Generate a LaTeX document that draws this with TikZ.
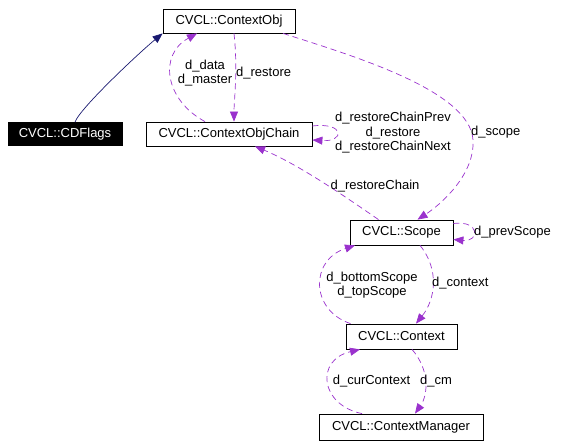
\documentclass[tikz,border=0pt]{standalone}
\usepackage{fontspec}
\setmainfont{Liberation Sans}
\usetikzlibrary{arrows.meta}
\definecolor{inhblue}{RGB}{25,25,112}
\definecolor{usepurple}{RGB}{154,50,205}
\tikzset{
  cls/.style={draw=black,line width=0.8pt,inner sep=0pt,minimum height=24pt,
    font=\fontsize{13}{14.5}\selectfont},
  clsdark/.style={cls,fill=black,text=white},
  inh/.style={-{Triangle[length=10pt,width=8pt]},draw=inhblue,line width=0.7pt},
  use/.style={-{Triangle[length=10pt,width=8pt]},draw=usepurple,line width=0.7pt,
    dash pattern=on 6pt off 4pt},
  lbl/.style={font=\fontsize{13}{14.5}\selectfont,align=center,inner sep=0pt},
}
\begin{document}
\begin{tikzpicture}[x=1pt,y=-1pt]
  \useasboundingbox (0,0) rectangle (561,447);
  % classes
  \node[cls,minimum width=132pt] (obj) at (229,21) {CVCL::ContextObj};
  \node[clsdark,minimum width=114pt,minimum height=23pt] (flags) at (65,134) {CVCL::CDFlags};
  \node[cls,minimum width=166pt] (chain) at (229,134) {CVCL::ContextObjChain};
  \node[cls,minimum width=103pt,minimum height=25pt] (scope) at (401.5,232.5) {CVCL::Scope};
  \node[cls,minimum width=111pt,minimum height=25pt] (ctx) at (401.5,336.5) {CVCL::Context};
  \node[cls,minimum width=164pt,minimum height=26pt] (mgr) at (401,427) {CVCL::ContextManager};

  % inheritance
  \draw[inh] ([xshift=10pt]flags.north) .. controls (80,108) and (140,52) .. (obj.south west);

  % members
  \draw[use] ([xshift=-24pt]chain.north) .. controls (165,100) and (158,55) .. ([xshift=-32pt]obj.south);
  \node[lbl] (lData) at (205,73) {d\_data\\d\_master};

  \draw[use] ([xshift=5pt]obj.south) .. controls (238,70) and (234,100) .. ([xshift=5pt]chain.north);
  \node[lbl,anchor=west] (lRestore) at (236,73) {d\_restore};

  \draw[use] ([yshift=8pt]chain.east) .. controls (345,122) and (345,142) .. ([yshift=-6pt]chain.east);
  \node[lbl] (lChain) at (393,133) {d\_restoreChainPrev\\d\_restore\\d\_restoreChainNext};

  \draw[use] ([xshift=-23pt]scope.north) .. controls (350,200) and (300,165) .. ([xshift=26pt]chain.south);
  \node[lbl] (lRestoreChain) at (375,186) {d\_restoreChain};

  \draw[use] ([xshift=54pt]obj.south) .. controls (350,55) and (470,90) .. (473,140)
    .. controls (475,175) and (440,205) .. ([xshift=16pt]scope.north);
  \node[lbl,anchor=west] (lScope) at (471,132) {d\_scope};

  \draw[use] ([yshift=9pt]scope.east) .. controls (480,220) and (480,242) .. ([yshift=-7pt]scope.east);
  \node[lbl,anchor=west] (lPrev) at (474,232) {d\_prevScope};

  \draw[use] ([xshift=-51pt]ctx.north) .. controls (310,310) and (310,260) .. ([xshift=-46.5pt]scope.south);
  \node[lbl] (lBottom) at (372,285) {d\_bottomScope\\d\_topScope};

  \draw[use] ([xshift=18.5pt]scope.south) .. controls (440,270) and (435,300) .. ([xshift=14.5pt]ctx.north);
  \node[lbl,anchor=west] (lContext) at (432,283) {d\_context};

  \draw[use] ([xshift=-39pt]mgr.north) .. controls (320,405) and (315,360) .. ([xshift=-41.5pt]ctx.south);
  \node[lbl] (lCur) at (371.5,381) {d\_curContext};

  \draw[use] ([xshift=10.5pt]ctx.south) .. controls (430,370) and (428,395) .. ([xshift=14pt]mgr.north);
  \node[lbl,anchor=west] (lCm) at (420,381) {d\_cm};
\end{tikzpicture}
\end{document}
